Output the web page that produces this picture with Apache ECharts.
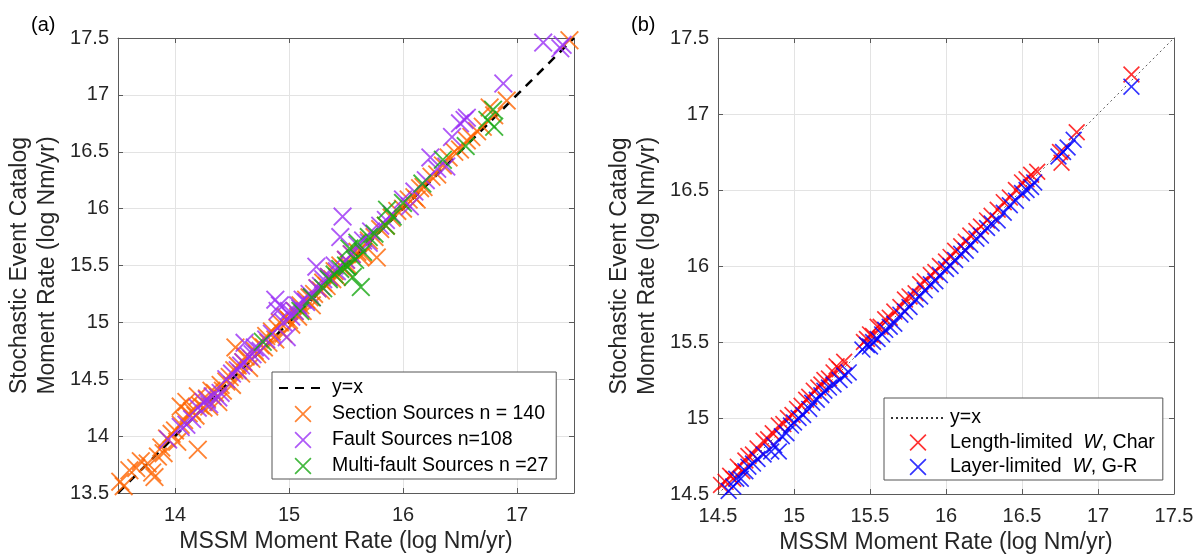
<!DOCTYPE html>
<html>
<head>
<meta charset="utf-8">
<script src="https://cdn.jsdelivr.net/npm/echarts@6/dist/echarts.min.js"></script>
<style>html,body{margin:0;padding:0;background:#fff}#c{width:1200px;height:558px}</style>
</head>
<body>
<div id="c"></div>
<script>
// ---------- Data ----------
const leftRange = [13.5, 17.5];
const rightRange = [14.5, 17.5];
const leftXTicks = [14, 15, 16, 17];
const yEqualsXLeft = [[13.5, 13.5], [17.5, 17.5]];
const yEqualsXRight = [[14.5, 14.5], [17.5, 17.5]];

const sectionSources = [
[13.52,13.6],[13.55,13.56],[13.6,13.7],[13.66,13.72],[13.7,13.78],[13.76,13.76],[13.8,13.68],[13.82,13.64],[13.85,13.82],[13.88,13.9],
[13.9,13.85],[13.93,13.98],[13.97,14.02],[14.0,14.05],[14.02,13.95],[14.05,14.1],[14.05,14.26],[14.08,14.14],[14.1,14.3],[14.12,14.2],
[14.15,14.22],[14.18,14.18],[14.2,13.88],[14.2,14.35],[14.22,14.27],[14.25,14.25],[14.28,14.33],[14.3,14.26],[14.32,14.4],[14.35,14.38],
[14.38,14.3],[14.4,14.45],[14.42,14.4],[14.45,14.48],[14.48,14.52],[14.5,14.45],[14.52,14.58],[14.53,14.78],[14.55,14.62],[14.58,14.55],
[14.6,14.65],[14.62,14.7],[14.65,14.6],[14.67,14.68],[14.7,14.75],[14.72,14.72],[14.75,14.8],[14.78,14.78],[14.8,14.88],[14.82,14.82],
[14.85,14.92],[14.88,14.85],[14.9,14.95],[14.92,15.0],[14.95,14.9],[14.97,15.05],[15.0,15.02],[15.02,14.98],[15.05,15.1],[15.08,15.05],
[15.1,15.15],[15.12,15.1],[15.15,15.2],[15.18,15.22],[15.2,15.15],[15.22,15.25],[15.25,15.3],[15.28,15.28],[15.3,15.35],[15.33,15.32],
[15.35,15.4],[15.38,15.38],[15.4,15.45],[15.42,15.4],[15.45,15.5],[15.48,15.47],[15.5,15.55],[15.52,15.5],[15.55,15.6],[15.6,15.62],
[15.62,15.58],[15.65,15.6],[15.7,15.72],[15.75,15.75],[15.77,15.57],[15.8,15.82],[15.85,15.85],[15.9,15.92],[15.95,15.98],[16.0,16.0],
[16.05,16.08],[16.1,16.1],[16.12,16.08],[16.15,16.18],[16.18,16.19],[16.25,16.28],[16.3,16.3],[16.35,16.38],[16.4,16.45],[16.45,16.5],
[16.5,16.52],[16.56,16.6],[16.6,16.63],[16.65,16.68],[16.7,16.72],[16.76,16.89],[16.8,16.82],[16.91,16.95],[17.46,17.48]
];
const faultSources = [
[13.94,13.97],[14.05,14.08],[14.1,14.1],[14.15,14.15],[14.2,14.25],[14.25,14.3],[14.28,14.32],[14.3,14.28],[14.33,14.35],[14.38,14.34],
[14.4,14.38],[14.45,14.5],[14.5,14.55],[14.55,14.58],[14.58,14.62],[14.6,14.65],[14.61,14.82],[14.65,14.7],[14.68,14.72],[14.7,14.78],
[14.75,14.75],[14.8,14.85],[14.85,14.9],[14.88,15.2],[14.9,15.1],[14.92,15.15],[14.95,15.0],[14.98,14.87],[15.0,15.1],[15.02,15.05],
[15.05,15.1],[15.08,15.15],[15.1,15.12],[15.12,15.2],[15.15,15.18],[15.18,15.25],[15.2,15.22],[15.24,15.49],[15.25,15.3],[15.28,15.32],
[15.3,15.38],[15.35,15.4],[15.4,15.5],[15.42,15.45],[15.45,15.75],[15.47,15.93],[15.5,15.55],[15.55,15.6],[15.6,15.68],[15.65,15.72],
[15.7,15.7],[15.72,15.8],[15.8,15.85],[15.85,15.9],[15.9,15.95],[16.0,16.08],[16.06,16.02],[16.1,16.15],[16.2,16.25],[16.24,16.45],
[16.3,16.35],[16.38,16.37],[16.43,16.63],[16.5,16.75],[16.54,16.78],[16.56,16.8],[16.88,17.1],[17.23,17.46],[17.38,17.41],[17.4,17.44]
];
const multiFaultSources = [
[14.77,14.83],[15.1,15.1],[15.2,15.22],[15.3,15.3],[15.35,15.38],[15.4,15.42],[15.45,15.47],[15.5,15.5],[15.51,15.49],[15.53,15.65],
[15.56,15.4],[15.58,15.55],[15.6,15.7],[15.63,15.31],[15.65,15.62],[15.7,15.75],[15.75,15.78],[15.85,15.85],[15.86,15.99],[15.91,15.93],
[16.0,16.05],[16.17,16.22],[16.35,16.43],[16.55,16.55],[16.74,16.78],[16.79,16.87],[16.8,16.72]
];
const lengthLimited = [
[14.52,14.56],[14.55,14.58],[14.58,14.62],[14.6,14.6],[14.63,14.68],[14.66,14.65],[14.68,14.72],[14.7,14.75],[14.73,14.76],[14.76,14.8],
[14.8,14.85],[14.83,14.86],[14.86,14.9],[14.9,14.95],[14.93,14.96],[14.96,15.0],[14.99,15.02],[15.02,15.06],[15.05,15.08],[15.08,15.12],
[15.1,15.14],[15.13,15.18],[15.16,15.2],[15.18,15.22],[15.2,15.25],[15.23,15.26],[15.26,15.3],[15.28,15.34],[15.3,15.32],[15.33,15.37],
[15.46,15.5],[15.48,15.52],[15.5,15.55],[15.52,15.54],[15.55,15.6],[15.57,15.6],[15.6,15.65],[15.63,15.66],[15.66,15.7],[15.7,15.73],
[15.73,15.78],[15.76,15.8],[15.8,15.82],[15.83,15.88],[15.86,15.9],[15.9,15.94],[15.93,15.96],[15.96,16.0],[16.0,16.03],[16.03,16.06],
[16.06,16.1],[16.1,16.13],[16.13,16.16],[16.16,16.2],[16.2,16.23],[16.23,16.26],[16.27,16.3],[16.3,16.33],[16.34,16.37],[16.38,16.42],
[16.42,16.45],[16.46,16.5],[16.5,16.55],[16.53,16.57],[16.56,16.6],[16.6,16.62],[16.75,16.75],[16.76,16.68],[16.86,16.88],[17.22,17.26]
];
const layerLimited = [
[14.57,14.52],[14.6,14.55],[14.62,14.6],[14.65,14.6],[14.68,14.65],[14.7,14.68],[14.73,14.7],[14.76,14.73],[14.8,14.76],[14.85,14.78],
[14.87,14.82],[14.9,14.78],[14.92,14.88],[14.95,14.9],[14.98,14.95],[15.0,14.97],[15.03,15.0],[15.06,15.02],[15.1,15.06],[15.12,15.1],
[15.15,15.12],[15.18,15.15],[15.2,15.18],[15.23,15.2],[15.26,15.22],[15.3,15.25],[15.33,15.28],[15.36,15.3],[15.45,15.45],[15.48,15.48],
[15.5,15.47],[15.52,15.5],[15.55,15.52],[15.58,15.55],[15.6,15.58],[15.63,15.6],[15.66,15.62],[15.7,15.68],[15.73,15.7],[15.76,15.73],
[15.8,15.78],[15.83,15.8],[15.86,15.84],[15.9,15.88],[15.93,15.9],[15.96,15.94],[16.0,15.98],[16.03,16.0],[16.06,16.04],[16.1,16.08],
[16.13,16.1],[16.16,16.14],[16.2,16.18],[16.23,16.2],[16.27,16.25],[16.3,16.28],[16.34,16.3],[16.38,16.35],[16.42,16.4],[16.46,16.43],
[16.5,16.48],[16.53,16.5],[16.56,16.52],[16.58,16.55],[16.74,16.72],[16.77,16.75],[16.8,16.78],[16.84,16.83],[17.22,17.18]
];

// ---------- Styling ----------
const FONT = '"Liberation Sans", Arial, Helvetica, sans-serif';
const XMARK = 'path://M0,7 L7,0 L50,43 L93,0 L100,7 L57,50 L100,93 L93,100 L50,57 L7,100 L0,93 L43,50 Z';
const AX = '#5a5a5a';
const TXT = '#262626';
const GRIDC = '#e3e3e3';

function baseAxis(gridIndex, pos, range, showLabels, extra) {
  const a = {
    type: 'value', gridIndex: gridIndex, position: pos,
    min: range[0], max: range[1], interval: 0.5,
    axisLine: {show: true, onZero: false, lineStyle: {color: AX, width: 1}},
    axisTick: {show: true, inside: true, length: 5, lineStyle: {color: AX, width: 1}},
    axisLabel: {show: showLabels, color: TXT, fontSize: 20, fontFamily: FONT, margin: 9,
      formatter: v => String(Math.round(v * 10) / 10)},
    splitLine: {show: showLabels, lineStyle: {color: GRIDC, width: 1}},
    nameMoveOverlap: false
  };
  return Object.assign(a, extra || {});
}

const yName = 'Stochastic Event Catalog\nMoment Rate (log Nm/yr)';
const xName = 'MSSM Moment Rate (log Nm/yr)';
const nameStyle = {fontSize: 23, fontFamily: FONT, color: TXT, lineHeight: 28};

function xBottom(gridIndex, range) {
  const a = baseAxis(gridIndex, 'bottom', range, true, {
    name: xName, nameLocation: 'middle', nameGap: 35, nameTextStyle: nameStyle
  });
  a.axisLabel.margin = 12;
  return a;
}

const leftXBottom = xBottom(0, leftRange);
leftXBottom.axisTick.customValues = leftXTicks;
leftXBottom.axisLabel.customValues = leftXTicks;
const leftXTop = baseAxis(0, 'top', leftRange, false);
leftXTop.axisTick.customValues = leftXTicks;

const option = {
  backgroundColor: '#ffffff',
  animation: false,
  title: [
    {text: '(a)', left: 26, top: 10, textStyle: {fontSize: 20, fontWeight: 'normal', color: '#000', fontFamily: FONT}},
    {text: '(b)', left: 626, top: 10, textStyle: {fontSize: 20, fontWeight: 'normal', color: '#000', fontFamily: FONT}}
  ],
  grid: [
    {left: 118, top: 38, width: 456, height: 455, show: false, containLabel: false, outerBoundsMode: 'none'},
    {left: 718, top: 38, width: 456, height: 456, show: false, containLabel: false, outerBoundsMode: 'none'}
  ],
  xAxis: [
    leftXBottom,
    leftXTop,
    xBottom(1, rightRange),
    baseAxis(1, 'top', rightRange, false)
  ],
  yAxis: [
    baseAxis(0, 'left', leftRange, true, {name: yName, nameLocation: 'middle', nameGap: 56, nameTextStyle: nameStyle}),
    baseAxis(0, 'right', leftRange, false),
    baseAxis(1, 'left', rightRange, true, {name: yName, nameLocation: 'middle', nameGap: 56, nameTextStyle: nameStyle}),
    baseAxis(1, 'right', rightRange, false)
  ],
  legend: [
    {
      data: [{name: 'y=x', itemStyle: {opacity: 0}}, 'Section Sources n = 140', 'Fault Sources n=108', 'Multi-fault Sources n =27'],
      orient: 'vertical', left: 272, top: 372,
      itemWidth: 48, itemHeight: 17, itemGap: 6,
      padding: [6, 8, 3, 6],
      backgroundColor: '#ffffff', borderColor: '#555', borderWidth: 1, borderRadius: 0,
      textStyle: {fontSize: 19.5, fontFamily: FONT, color: '#000'},
      selectedMode: false
    },
    {
      data: [{name: 'y=x ', itemStyle: {opacity: 0}}, 'Length-limited W, Char', 'Layer-limited W, G-R'],
      orient: 'vertical', left: 884, top: 398,
      itemWidth: 54, itemHeight: 17, itemGap: 4.5,
      padding: [10, 8, 3, 6],
      backgroundColor: '#ffffff', borderColor: '#555', borderWidth: 1, borderRadius: 0,
      textStyle: {fontSize: 19.5, fontFamily: FONT, color: '#000',
        rich: {n: {fontSize: 19.5, fontFamily: FONT, color: '#000'},
               i: {fontSize: 19.5, fontFamily: FONT, color: '#000', fontStyle: 'italic'}}},
      formatter: function (name) {
        if (name.indexOf(' W,') >= 0) {
          const parts = name.split(' W,');
          return '{n|' + parts[0] + '  }{i|W}{n|,' + parts[1] + '}';
        }
        return '{n|' + name.trim() + '}';
      },
      selectedMode: false
    }
  ],
  series: [
    {name: 'y=x', type: 'line', xAxisIndex: 0, yAxisIndex: 0, data: yEqualsXLeft, symbol: 'none', showSymbol: false,
      lineStyle: {color: '#000', width: 2.5, type: [9, 7]}, itemStyle: {color: '#000'}, silent: true, z: 2},
    {name: 'Section Sources n = 140', type: 'scatter', xAxisIndex: 0, yAxisIndex: 0, data: sectionSources,
      symbol: XMARK, symbolSize: 19, symbolKeepAspect: true, itemStyle: {color: '#ff6400'}, z: 3},
    {name: 'Fault Sources n=108', type: 'scatter', xAxisIndex: 0, yAxisIndex: 0, data: faultSources,
      symbol: XMARK, symbolSize: 19, symbolKeepAspect: true, itemStyle: {color: '#9a2ff5'}, z: 3},
    {name: 'Multi-fault Sources n =27', type: 'scatter', xAxisIndex: 0, yAxisIndex: 0, data: multiFaultSources,
      symbol: XMARK, symbolSize: 19, symbolKeepAspect: true, itemStyle: {color: '#16a812'}, z: 3},
    {name: 'y=x ', type: 'line', xAxisIndex: 2, yAxisIndex: 2, data: yEqualsXRight, symbol: 'none', showSymbol: false,
      lineStyle: {color: '#333', width: 0.8, type: [2, 3]}, itemStyle: {color: '#333'}, silent: true, z: 2},
    {name: 'Length-limited W, Char', type: 'scatter', xAxisIndex: 2, yAxisIndex: 2, data: lengthLimited,
      symbol: XMARK, symbolSize: 17, symbolKeepAspect: true, itemStyle: {color: '#ff0000'}, z: 3},
    {name: 'Layer-limited W, G-R', type: 'scatter', xAxisIndex: 2, yAxisIndex: 2, data: layerLimited,
      symbol: XMARK, symbolSize: 17, symbolKeepAspect: true, itemStyle: {color: '#0000ff'}, z: 3}
  ]
};

const chart = echarts.init(document.getElementById('c'), null, {renderer: 'canvas'});
chart.setOption(option);
</script>
</body>
</html>
